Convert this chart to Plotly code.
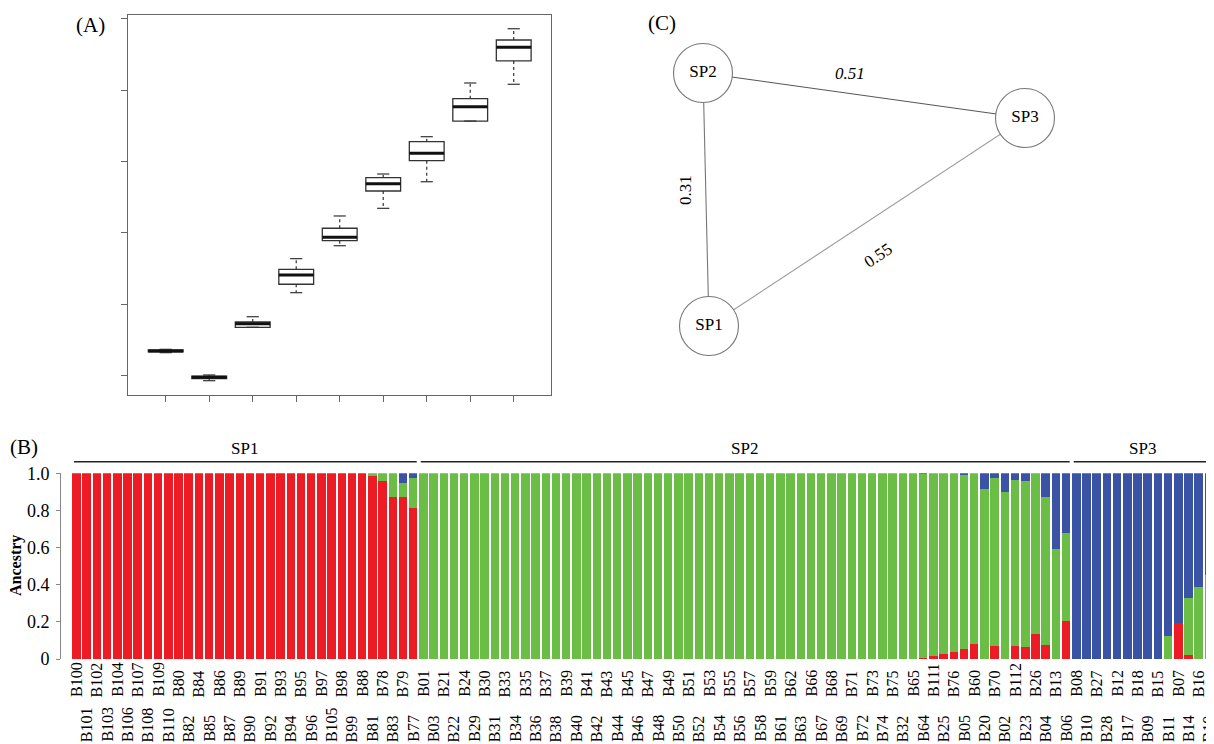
import plotly.graph_objects as go

# page offset of the figure div (default body margin) is compensated here
OFF = 8
W, H = 1214 - OFF, 744 - OFF
SERIF = "Liberation Serif"

# ---------------- Panel A data (box statistics, 9 groups) ----------------
box_pos = [1, 2, 3, 4, 5, 6, 7, 8, 9]
box_lo = [0.326, -0.066, 0.681, 1.165, 1.822, 2.345, 2.717, 3.566, 4.080]
box_q1 = [0.336, -0.035, 0.681, 1.283, 1.892, 2.587, 3.011, 3.566, 4.406]
box_med = [0.350, -0.018, 0.731, 1.413, 1.940, 2.690, 3.115, 3.766, 4.597]
box_q3 = [0.364, -0.004, 0.755, 1.492, 2.066, 2.773, 3.277, 3.878, 4.699]
box_hi = [0.373, 0.014, 0.829, 1.641, 2.238, 2.825, 3.347, 4.098, 4.857]
a_yticks = [0, 1, 2, 3, 4, 5]

# ---------------- Panel C data (network) ----------------
nodes = ["SP1", "SP2", "SP3"]
edges = [("SP2", "SP3"), ("SP2", "SP1"), ("SP1", "SP3")]
edge_weights = ["0.51", "0.31", "0.55"]

# ---------------- Panel B data (ancestry) ----------------
samples = [
    "B100", "B101", "B102", "B103", "B104", "B106", "B107", "B108", "B109", "B110",
    "B80", "B82", "B84", "B85", "B86", "B87", "B89", "B90", "B91", "B92",
    "B93", "B94", "B95", "B96", "B97", "B105", "B98", "B99", "B88", "B81",
    "B78", "B83", "B79", "B77",
    "B01", "B03", "B21", "B22", "B24", "B29", "B30", "B31", "B33", "B34",
    "B35", "B36", "B37", "B38", "B39", "B40", "B41", "B42", "B43", "B44",
    "B45", "B46", "B47", "B48", "B49", "B50", "B51", "B52", "B53", "B54",
    "B55", "B56", "B57", "B58", "B59", "B61", "B62", "B63", "B66", "B67",
    "B68", "B69", "B71", "B72", "B73", "B74", "B75", "B32", "B65", "B64",
    "B111", "B25", "B76", "B05", "B60", "B20", "B70", "B02", "B112", "B23",
    "B26", "B04", "B13", "B06",
    "B08", "B10", "B27", "B28", "B12", "B17", "B18", "B09", "B15", "B11",
    "B07", "B14", "B16", "B19",
]
groups = ["SP1", "SP2", "SP3"]
group_sizes = [34, 64, 14]

anc_red = [
    1, 1, 1, 1, 1, 1, 1, 1, 1, 1, 1, 1, 1, 1, 1, 1, 1, 1, 1, 1,
    1, 1, 1, 1, 1, 1, 1, 1, 1, 0.987, 0.96, 0.874, 0.871, 0.811,
    0, 0, 0, 0, 0, 0, 0, 0, 0, 0, 0, 0, 0, 0, 0, 0, 0, 0, 0, 0,
    0, 0, 0, 0, 0, 0, 0, 0, 0, 0, 0, 0, 0, 0, 0, 0, 0, 0, 0, 0,
    0, 0, 0, 0, 0, 0, 0, 0, 0,
    0.008, 0.018, 0.025, 0.036, 0.054, 0.081, 0, 0.068, 0, 0.072,
    0.065, 0.136, 0.074, 0, 0.205,
    0, 0, 0, 0, 0, 0, 0, 0, 0, 0, 0.194, 0.022, 0, 0,
]
anc_green = [
    0, 0, 0, 0, 0, 0, 0, 0, 0, 0, 0, 0, 0, 0, 0, 0, 0, 0, 0, 0,
    0, 0, 0, 0, 0, 0, 0, 0, 0, 0.013, 0.04, 0.126, 0.075, 0.166,
    1, 1, 1, 1, 1, 1, 1, 1, 1, 1, 1, 1, 1, 1, 1, 1, 1, 1, 1, 1,
    1, 1, 1, 1, 1, 1, 1, 1, 1, 1, 1, 1, 1, 1, 1, 1, 1, 1, 1, 1,
    1, 1, 1, 1, 1, 1, 1, 1, 1,
    0.987, 0.982, 0.975, 0.964, 0.939, 0.919, 0.914, 0.907, 0.898, 0.894,
    0.892, 0.864, 0.797, 0.594, 0.475,
    0, 0, 0, 0, 0, 0, 0, 0, 0, 0.126, 0, 0.305, 0.39, 0.454,
]
anc_blue = [
    0, 0, 0, 0, 0, 0, 0, 0, 0, 0, 0, 0, 0, 0, 0, 0, 0, 0, 0, 0,
    0, 0, 0, 0, 0, 0, 0, 0, 0, 0, 0, 0, 0.054, 0.023,
    0, 0, 0, 0, 0, 0, 0, 0, 0, 0, 0, 0, 0, 0, 0, 0, 0, 0, 0, 0,
    0, 0, 0, 0, 0, 0, 0, 0, 0, 0, 0, 0, 0, 0, 0, 0, 0, 0, 0, 0,
    0, 0, 0, 0, 0, 0, 0, 0, 0,
    0.005, 0, 0, 0, 0.007, 0, 0.086, 0.025, 0.102, 0.034,
    0.043, 0, 0.129, 0.406, 0.32,
    1, 1, 1, 1, 1, 1, 1, 1, 1, 0.874, 0.806, 0.673, 0.61, 0.546,
]
b_yticks = [0, 0.2, 0.4, 0.6, 0.8, 1.0]
b_yticktext = ["0", "0.2", "0.4", "0.6", "0.8", "1.0"]

# ---------------- styling / layout constants ----------------
RED, GREEN, BLUE = "#ED1C24", "#6ABD45", "#3A53A4"
node_xy = {"SP2": (703, 73), "SP3": (1025, 118), "SP1": (709, 326)}
edge_colors = ["#555555", "#777777", "#999999"]


def fx(p):
    return (p - OFF) / W


def fy(p):
    return 1 - (p - OFF) / H


fig = go.Figure()

# ===== Panel A =====
fig.add_trace(go.Box(
    x=box_pos, q1=box_q1, median=box_med, q3=box_q3,
    lowerfence=box_q1, upperfence=box_q3, width=0.8, whiskerwidth=0,
    fillcolor="white", line=dict(color="#333333", width=1.3),
    xaxis="x", yaxis="y", showlegend=False, hoverinfo="skip", boxpoints=False,
))
wx, wy, cx, cy, mx, my = [], [], [], [], [], []
for p, lo, q1, md, q3, hi in zip(box_pos, box_lo, box_q1, box_med, box_q3, box_hi):
    wx += [p, p, None, p, p, None]
    wy += [q3, hi, None, q1, lo, None]
    cx += [p - 0.14, p + 0.14, None, p - 0.14, p + 0.14, None]
    cy += [hi, hi, None, lo, lo, None]
    mx += [p - 0.4, p + 0.4, None]
    my += [md, md, None]
fig.add_trace(go.Scatter(x=wx, y=wy, mode="lines", xaxis="x", yaxis="y",
                         line=dict(color="#333333", width=1.2, dash="3px,3px"),
                         showlegend=False, hoverinfo="skip"))
fig.add_trace(go.Scatter(x=cx, y=cy, mode="lines", xaxis="x", yaxis="y",
                         line=dict(color="#333333", width=1.2),
                         showlegend=False, hoverinfo="skip"))
fig.add_trace(go.Scatter(x=mx, y=my, mode="lines", xaxis="x", yaxis="y",
                         line=dict(color="#111111", width=3),
                         showlegend=False, hoverinfo="skip"))

# ===== Panel C =====
for (a, b), col in zip(edges, edge_colors):
    fig.add_trace(go.Scatter(
        x=[node_xy[a][0], node_xy[b][0]], y=[node_xy[a][1], node_xy[b][1]],
        mode="lines", line=dict(color=col, width=1.1), xaxis="x2", yaxis="y2",
        showlegend=False, hoverinfo="skip"))
fig.add_trace(go.Scatter(
    x=[node_xy[n][0] for n in nodes], y=[node_xy[n][1] for n in nodes],
    mode="markers+text", text=nodes, textposition="middle center",
    textfont=dict(family=SERIF, size=17, color="black"),
    marker=dict(size=59, color="white", line=dict(color="#777777", width=1.1)),
    xaxis="x2", yaxis="y2", showlegend=False, hoverinfo="skip"))

# ===== Panel B =====
idx = list(range(1, len(samples) + 1))
for vals, col in [(anc_red, RED), (anc_green, GREEN), (anc_blue, BLUE)]:
    fig.add_trace(go.Bar(x=idx, y=vals, marker=dict(color=col, line=dict(width=0)),
                         xaxis="x3", yaxis="y3", showlegend=False, hoverinfo="skip"))

annotations = []
shapes = []
# sample labels (staggered in two rows)
for i, s in enumerate(samples):
    top_row = (i % 2 == 0)
    annotations.append(dict(
        x=i + 1, xref="x3", y=fy(699) if top_row else fy(744), yref="paper",
        text=s, textangle=-90, showarrow=False, xanchor="center", yanchor="bottom",
        font=dict(family=SERIF, size=16, color="black")))
# group bars and labels
start = 1
for g, n in zip(groups, group_sizes):
    end = start + n - 1
    shapes.append(dict(type="line", xref="x3", yref="paper",
                       x0=start - 0.25, x1=end + 0.35, y0=fy(461.7), y1=fy(461.7),
                       line=dict(color="#222222", width=1.5)))
    annotations.append(dict(x=(start + end) / 2, xref="x3", y=fy(448), yref="paper",
                            text=g, showarrow=False, xanchor="center", yanchor="middle",
                            font=dict(family=SERIF, size=17, color="black")))
    start = end + 1

# Ancestry title
annotations.append(dict(x=fx(16), y=fy(566), xref="paper", yref="paper",
                        text="<b>Ancestry</b>", textangle=-90, showarrow=False,
                        xanchor="center", yanchor="middle",
                        font=dict(family=SERIF, size=16, color="black")))

# edge weight labels
mid_info = [
    (850, 73, 0, True),
    (685, 190, -90, False),
    (878, 255, -34, False),
]
for w, (ex, ey, ang, ital) in zip(edge_weights, mid_info):
    annotations.append(dict(x=ex, y=ey, xref="x2", yref="y2",
                            text=f"<i>{w}</i>" if ital else w, textangle=ang,
                            showarrow=False,
                            font=dict(family=SERIF, size=17, color="black")))

# panel letters
for t, xx, yy in [("(A)", 90, 25), ("(B)", 24, 447), ("(C)", 662, 23)]:
    annotations.append(dict(x=fx(xx), y=fy(yy), xref="paper", yref="paper", text=t,
                            showarrow=False, xanchor="center", yanchor="middle",
                            font=dict(family=SERIF, size=21, color="black")))

axis_a = dict(showline=True, mirror=True, linecolor="#666666", linewidth=1.2,
              ticks="outside", ticklen=6, tickcolor="#666666", tickwidth=1.1,
              showticklabels=False, showgrid=False, zeroline=False, automargin=False)

fig.update_layout(
    width=W, height=H, margin=dict(l=0, r=0, t=0, b=0, pad=0, autoexpand=False),
    paper_bgcolor="white", plot_bgcolor="white", showlegend=False,
    font=dict(family=SERIF),
    barmode="stack", bargap=0.17,
    xaxis=dict(domain=[fx(128), fx(551)], range=[0.133, 9.857], tickvals=box_pos,
               anchor="y", **axis_a),
    yaxis=dict(domain=[fy(395), fy(15)], range=[-0.266, 5.049], tickvals=a_yticks,
               anchor="x", **axis_a),
    xaxis2=dict(domain=[fx(640), 1], range=[640, 1214], visible=False, anchor="y2",
                automargin=False),
    yaxis2=dict(domain=[fy(400), 1], range=[400, OFF], visible=False, anchor="x2",
                automargin=False),
    xaxis3=dict(domain=[fx(71.4), 1], range=[0.5, len(samples) + 0.5], visible=False,
                anchor="y3", automargin=False),
    yaxis3=dict(domain=[fy(659), fy(473.3)], range=[0, 1], anchor="free",
                position=fx(60), showline=True, linecolor="#888888", linewidth=1,
                ticks="outside", ticklen=4, tickcolor="#888888", tickvals=b_yticks,
                ticktext=b_yticktext, showgrid=False, zeroline=False,
                ticklabelstandoff=3, automargin=False,
                tickfont=dict(family=SERIF, size=18, color="black")),
    annotations=annotations, shapes=shapes,
)

fig.write_html("out.html")
